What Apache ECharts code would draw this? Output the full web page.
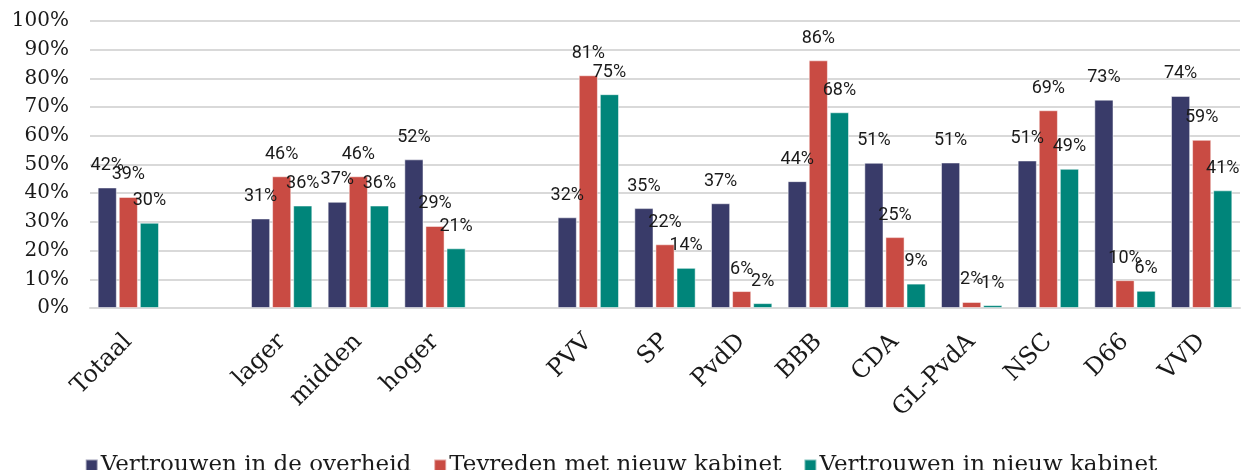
<!DOCTYPE html>
<html>
<head>
<meta charset="utf-8">
<script src="https://cdn.jsdelivr.net/npm/echarts@6/dist/echarts.min.js"></script>
<style>
  html, body { margin: 0; padding: 0; background: #fff; }
  #chart { width: 1242px; height: 470px; }
</style>
</head>
<body>
<div id="chart"></div>
<script>
// ==================== 数据 ====================
const categories = ['Totaal', '', 'lager', 'midden', 'hoger', '', 'PVV', 'SP', 'PvdD', 'BBB', 'CDA', 'GL-PvdA', 'NSC', 'D66', 'VVD']

const vertrouwenOverheid = [42.0, null, 31.2, 37.0, 51.8, null, 31.6, 34.8, 36.5, 44.2, 50.6, 50.7, 51.4, 72.6, 73.9]
const tevredenKabinet = [38.7, null, 45.9, 45.9, 28.6, null, 81.1, 22.2, 5.9, 86.3, 24.7, 2.1, 68.9, 9.7, 58.6]
const vertrouwenKabinet = [29.7, null, 35.7, 35.7, 20.8, null, 74.5, 14.0, 1.7, 68.2, 8.5, 1.0, 48.5, 6.0, 41.0]

const seriesNames = ['Vertrouwen in de overheid', 'Tevreden met nieuw kabinet', 'Vertrouwen in nieuw kabinet']
const colors = ['#393b69', '#c94b43', '#00857a']

const serif = '"DejaVu Serif", serif'

// ==================== 图表 ====================
const chart = echarts.init(document.getElementById('chart'))

const makeSeries = (name, data, color) => ({
  name,
  type: 'bar',
  data,
  barGap: '10%',
  barCategoryGap: '20%',
  itemStyle: { color, borderColor: 'rgba(255,255,255,0.5)', borderWidth: 1 },
  label: {
    show: true,
    position: 'top',
    distance: 13,
    color: '#1a1a1a',
    fontFamily: 'Roboto, sans-serif',
    fontSize: 18,
    formatter: (p) => p.value == null ? '' : Math.round(p.value) + '%'
  }
})

const option = {
  animation: false,
  color: colors,
  grid: {
    left: 90,
    right: 2,
    top: 21,
    bottom: 162
  },
  xAxis: {
    type: 'category',
    data: categories,
    axisTick: { show: false },
    axisLine: { lineStyle: { color: '#d9d9d9', width: 2 } },
    axisLabel: {
      interval: 0,
      rotate: 45,
      margin: 30,
      color: '#1a1a1a',
      fontFamily: serif,
      fontSize: 24
    }
  },
  yAxis: {
    type: 'value',
    min: 0,
    max: 100,
    interval: 10,
    axisLabel: {
      formatter: '{value}%',
      margin: 21,
      color: '#1a1a1a',
      fontFamily: serif,
      fontSize: 20
    },
    splitLine: { lineStyle: { color: '#d9d9d9', width: 2 } }
  },
  legend: {
    data: seriesNames,
    left: 'center',
    top: 449,
    icon: 'rect',
    itemWidth: 12,
    itemHeight: 12,
    itemGap: 22,
    textStyle: { color: '#1a1a1a', fontFamily: serif, fontSize: 23, padding: [0, 0, 0, -2] }
  },
  series: [
    makeSeries(seriesNames[0], vertrouwenOverheid, colors[0]),
    makeSeries(seriesNames[1], tevredenKabinet, colors[1]),
    makeSeries(seriesNames[2], vertrouwenKabinet, colors[2])
  ]
}

chart.setOption(option)
</script>
</body>
</html>
